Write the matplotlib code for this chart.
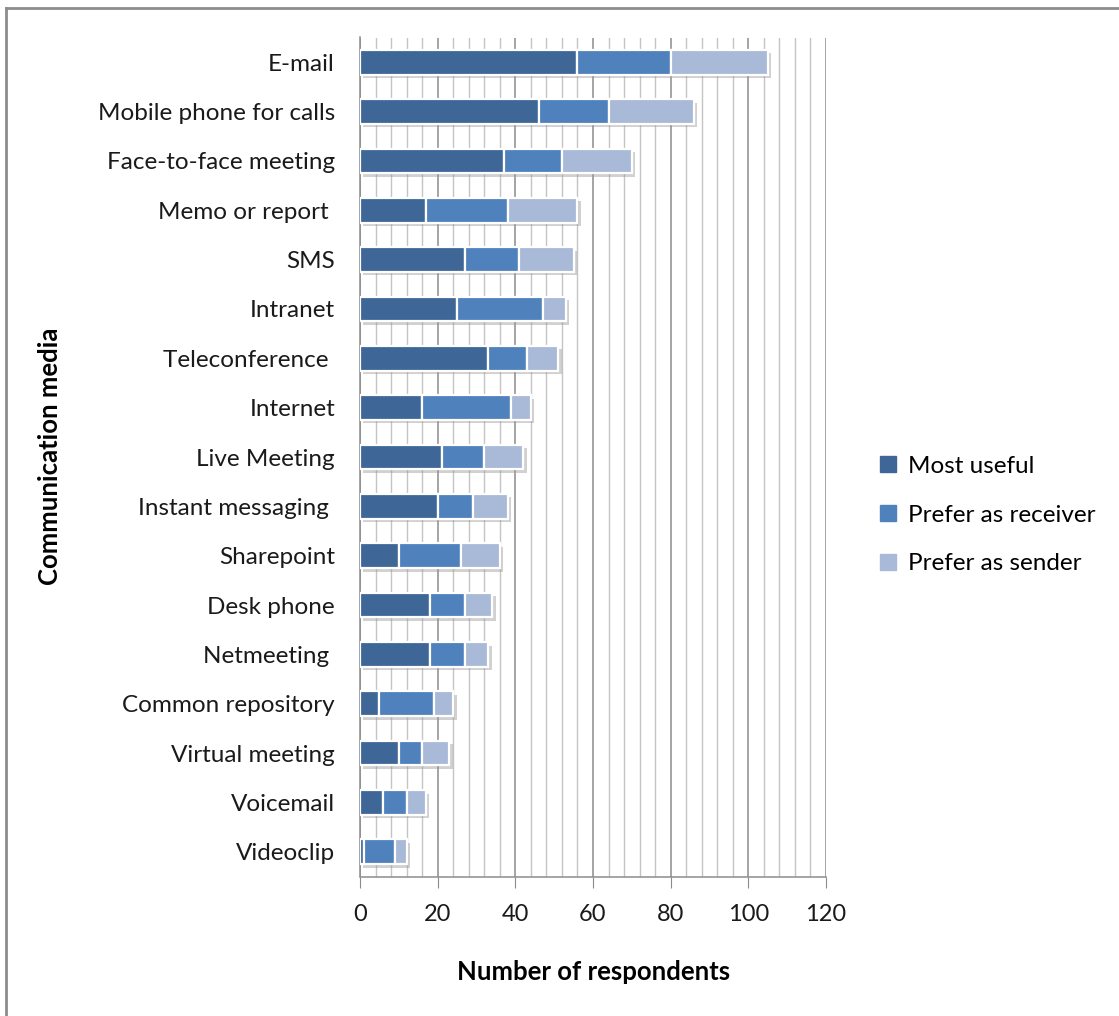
import numpy as np
import matplotlib.pyplot as plt
import matplotlib.patheffects as pe
from matplotlib.lines import Line2D
from matplotlib.ticker import MultipleLocator

plt.rcParams['font.family'] = ['Lato', 'DejaVu Sans']

media = ['E-mail', 'Mobile phone for calls', 'Face-to-face meeting', 'Memo or report ',
         'SMS', 'Intranet', 'Teleconference ', 'Internet', 'Live Meeting',
         'Instant messaging ', 'Sharepoint', 'Desk phone', 'Netmeeting ',
         'Common repository', 'Virtual meeting', 'Voicemail', 'Videoclip']
most_useful = [56, 46, 37, 17, 27, 25, 33, 16, 21, 20, 10, 18, 18, 5, 10, 6, 1]
prefer_receiver = [24, 18, 15, 21, 14, 22, 10, 23, 11, 9, 16, 9, 9, 14, 6, 6, 8]
prefer_sender = [25, 22, 18, 18, 14, 6, 8, 5, 10, 9, 10, 7, 6, 5, 7, 5, 3]

series = [('Most useful', most_useful, '#3E6797'),
          ('Prefer as receiver', prefer_receiver, '#4F81BD'),
          ('Prefer as sender', prefer_sender, '#A9B9D8')]

fig = plt.figure(figsize=(11.19, 10.16), dpi=100)
ax = fig.add_axes([360 / 1119, 1 - 876.5 / 1016, 466 / 1119, (876.5 - 37.5) / 1016])

y = np.arange(len(media))
left = np.zeros(len(media))
shadow = [pe.SimplePatchShadow(offset=(2.5, -2.5), shadow_rgbFace='#9a9a9a', alpha=0.45),
          pe.Normal()]
for name, vals, color in series:
    bars = ax.barh(y, vals, left=left, height=0.5, color=color,
                   edgecolor='white', linewidth=1.6, label=name, zorder=3)
    for b in bars:
        b.set_path_effects(shadow)
    left += np.array(vals)

ax.set_xlim(0, 120)
ax.set_ylim(len(media) - 0.5, -0.5)
ax.xaxis.set_major_locator(MultipleLocator(20))
ax.xaxis.set_minor_locator(MultipleLocator(4))
ax.grid(axis='x', which='minor', color='#c4c4c4', linewidth=1.0, zorder=0)
ax.grid(axis='x', which='major', color='#8c8c8c', linewidth=1.1, zorder=0)
ax.set_axisbelow(True)

ax.set_yticks(y)
ax.set_yticklabels(media, fontsize=17.5, color='#1a1a1a')
ax.tick_params(axis='y', length=0, pad=18)
ax.tick_params(axis='x', which='major', length=8, color='#8c8c8c', labelsize=17,
               labelcolor='#1a1a1a', pad=12)
ax.tick_params(axis='x', which='minor', length=0)

for s in ['top', 'right']:
    ax.spines[s].set_visible(False)
for s in ['left', 'bottom']:
    ax.spines[s].set_color('#8c8c8c')
    ax.spines[s].set_linewidth(1.1)

fig.text(594 / 1119, 1 - 972 / 1016, 'Number of respondents', ha='center', va='center',
         fontsize=18.5, fontweight='bold')
fig.text(50 / 1119, 1 - 456 / 1016, 'Communication media', ha='center', va='center',
         rotation=90, fontsize=18.5, fontweight='bold')

handles = [Line2D([], [], marker='s', linestyle='none', markersize=11,
                  markerfacecolor=c, markeredgecolor=c) for _, _, c in series]
fig.legend(handles, [n for n, _, _ in series], loc='center left',
           bbox_to_anchor=(856 / 1119, 1 - 515 / 1016), frameon=False,
           fontsize=17.5, handlelength=0.8, handletextpad=0.45, labelspacing=1.15)

# outer frame, only the left and top edges fall inside the image
fig.add_artist(Line2D([6 / 1119, 6 / 1119], [0, 1 - 8 / 1016], color='#8c8c8c',
                      linewidth=2, transform=fig.transFigure))
fig.add_artist(Line2D([6 / 1119, 1], [1 - 8 / 1016, 1 - 8 / 1016], color='#8c8c8c',
                      linewidth=2, transform=fig.transFigure))

fig.savefig('out.png', dpi=100)
